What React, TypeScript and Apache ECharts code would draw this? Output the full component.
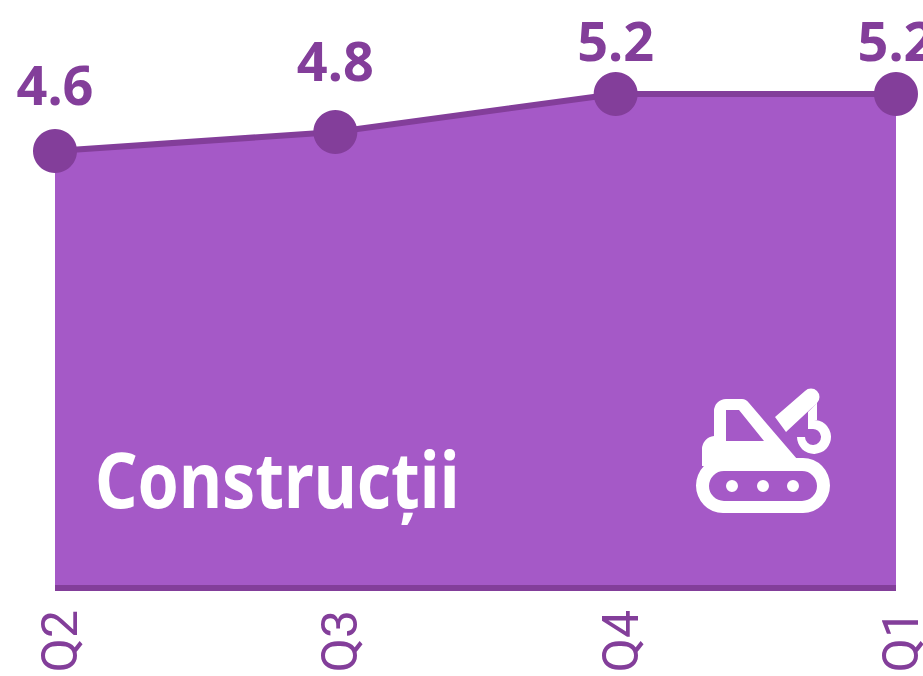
import React, { useEffect, useRef } from "react";
import * as echarts from "echarts";

const categories = ["Q2", "Q3", "Q4", "Q1"];
const values = [4.6, 4.8, 5.2, 5.2];
const labelGaps = [18, 23, 5, 5];
const title = "Construcții";
const FILL = "#a559c7";
const DARK = "#833e9a";

const ICON =
  "M702 466 L702 449 A13 13 0 0 1 714 436 L714 411 A12 12 0 0 1 726 399 L742 399 Q746 399 749 403 L797 459 L797 466 Z " +
  "M726 410 L726 441 L764 441 L739 410 Z " +
  "M723 458 L803 458 A27 27.5 0 0 1 803 513 L723 513 A27 27.5 0 0 1 723 458 Z " +
  "M724 471 A15 15 0 0 0 724 501 L802 501 A15 15 0 0 0 802 471 Z " +
  "M726 486 A6 6 0 0 1 738 486 A6 6 0 0 1 726 486 Z " +
  "M757 486 A6 6 0 0 1 769 486 A6 6 0 0 1 757 486 Z " +
  "M787 486 A6 6 0 0 1 799 486 A6 6 0 0 1 787 486 Z " +
  "M775 417 L805 391 A8 8 0 0 1 817 403 L786 432 Z " +
  "M797 437 L805 437 A8 8 0 1 0 812 429 L808 429 L808 412 L817 403 L817 420 L812.5 420 A17 17 0 1 1 797 437 Z";

echarts.graphic.registerShape("craneIcon", echarts.graphic.extendPath(ICON, {}));

export default function App() {
  const ref = useRef<HTMLDivElement>(null);
  useEffect(() => {
    document.body.style.margin = "0";
    document.body.style.overflow = "hidden";
    const chart = echarts.init(ref.current!, null, { renderer: "svg" });
    chart.setOption({
      animation: false,
      grid: { left: 55, right: 27, top: 18, bottom: 88, outerBoundsMode: "none" },
      xAxis: {
        type: "category",
        boundaryGap: false,
        data: categories,
        z: 5,
        axisLine: { show: true, onZero: true, lineStyle: { color: DARK, width: 6, cap: "butt" } },
        axisTick: { show: false },
        axisLabel: {
          rotate: 90,
          color: DARK,
          fontFamily: "Roboto",
          fontWeight: 400,
          fontSize: 50,
          margin: 22,
          verticalAlign: "top",
          lineHeight: 10,
          hideOverlap: false,
          interval: 0,
        },
      },
      yAxis: { type: "value", min: 0, max: 6, show: false },
      series: [
        {
          type: "line",
          data: values.map((value, i) => ({
            value,
            label: { distance: labelGaps[i] },
          })),
          clip: false,
          symbol: "circle",
          symbolSize: 44,
          showSymbol: true,
          z: 3,
          itemStyle: { color: DARK },
          lineStyle: { color: DARK, width: 6 },
          areaStyle: { color: FILL, opacity: 1 },
          label: {
            show: true,
            position: "top",
            color: DARK,
            fontFamily: "Noto Sans",
            fontWeight: "bold",
            fontSize: 54,
            formatter: (p: any) => p.value.toFixed(1),
          },
        },
      ],
      graphic: [
        {
          type: "text",
          x: 95,
          y: 517,
          scaleX: 0.85,
          z: 10,
          style: {
            text: title,
            fill: "#fff",
            fontFamily: "Noto Sans",
            fontWeight: "bold",
            fontSize: 78,
            verticalAlign: "bottom",
          },
        },
        { type: "craneIcon", x: 0, y: 0, z: 10, style: { fill: "#fff" } },
      ],
    });
    return () => chart.dispose();
  }, []);
  return <div ref={ref} style={{ width: 923, height: 676 }} />;
}
